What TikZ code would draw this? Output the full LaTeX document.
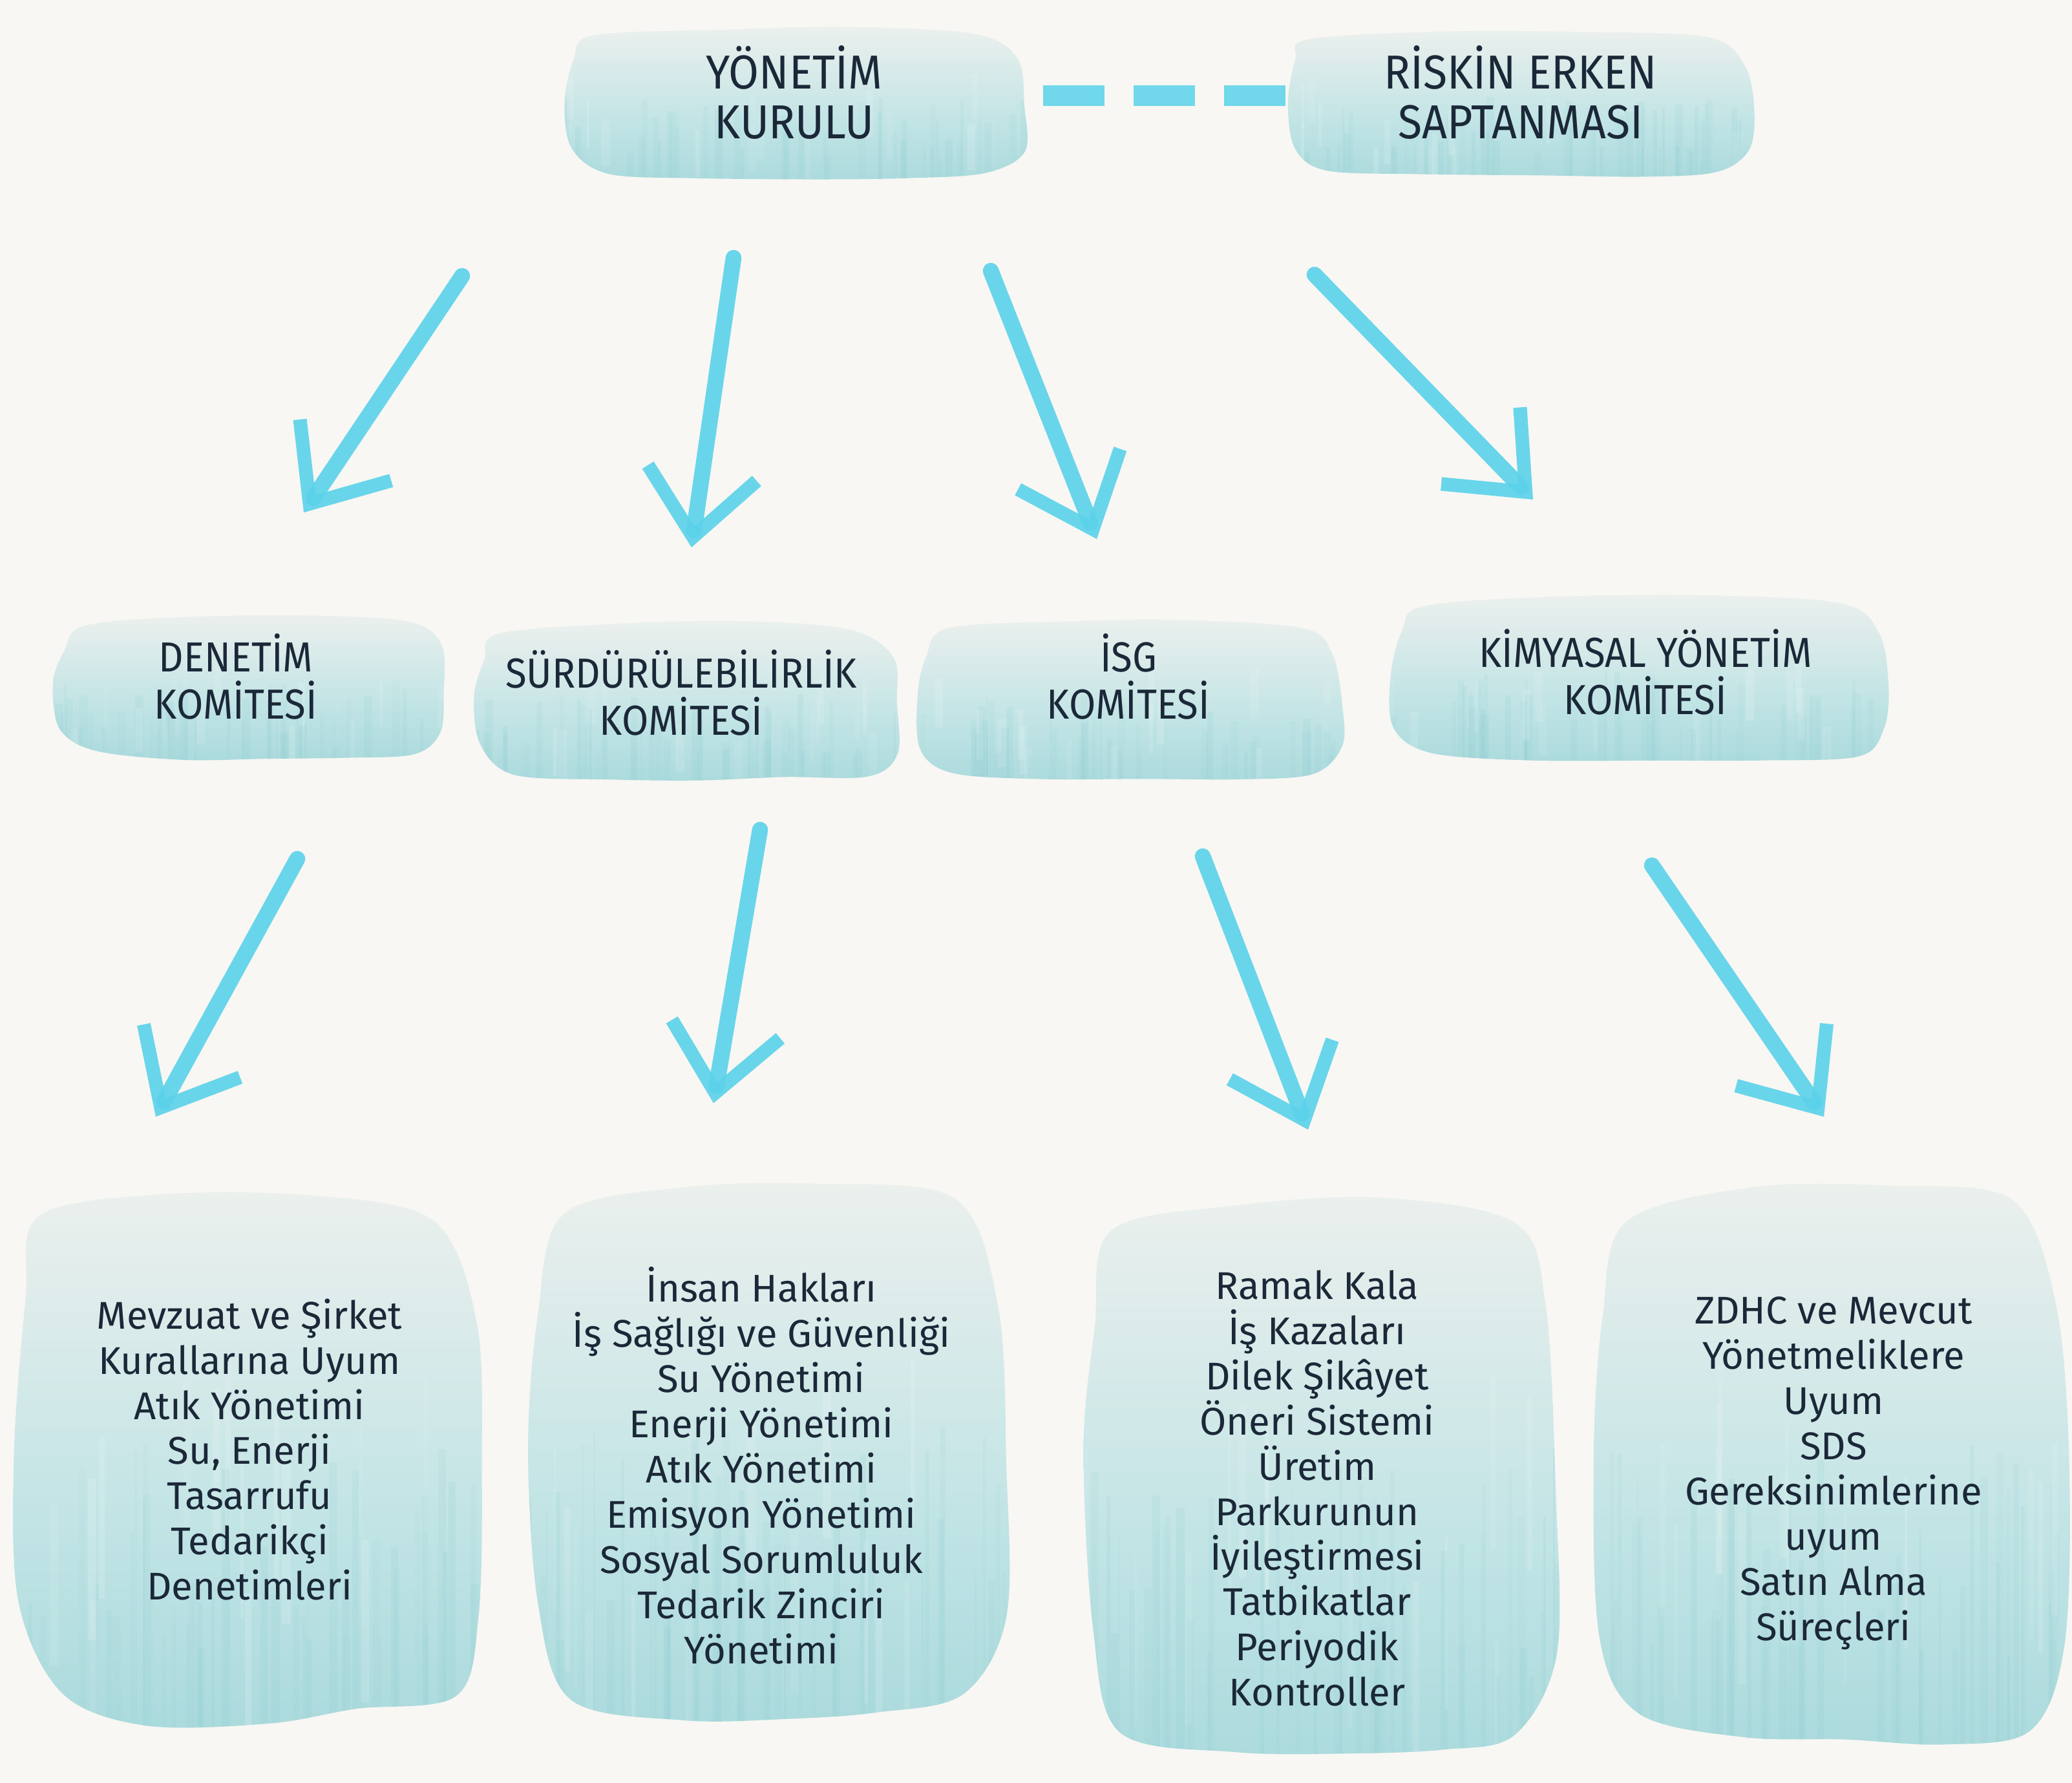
\documentclass[tikz,border=0pt]{standalone}
\usepackage{fontspec}
\setmainfont{Fira Sans}
\newfontfamily\headfont{Fira Sans}[FakeStretch=0.92]
\usetikzlibrary{arrows.meta,calc}
\definecolor{bgcol}{HTML}{F8F7F3}
\definecolor{blobtop}{HTML}{EFF1EE}
\definecolor{blobmid}{HTML}{C2E4E5}
\definecolor{blobbot}{HTML}{98D2D6}
\definecolor{streak}{HTML}{7CC6CB}
\definecolor{txt}{HTML}{1B2838}
\definecolor{arrowc}{HTML}{5AD2EA}
\pgfdeclareverticalshading{wcshade}{100bp}{color(0bp)=(blobbot); color(12bp)=(blobbot); color(45bp)=(blobmid); color(75bp)=(blobtop); color(100bp)=(blobtop)}
\newcommand\wcblob[5]{%
  \pgfmathsetseed{#5}%
  \pgfmathsetmacro\bw{#3-#1}%
  \pgfmathsetmacro\bh{#2-#4}%
  \begin{scope}[shift={(#1,#2)}, xscale=\bw, yscale=\bh]
    \clip plot[smooth cycle, tension=0.55] coordinates {
      ({0.05+0.03*rnd},{-0.05-0.03*rnd}) ({0.3+0.05*rnd},{-0.01-0.02*rnd})
      ({0.6+0.05*rnd},{-0.0-0.02*rnd}) ({0.88+0.03*rnd},{-0.03-0.03*rnd})
      ({0.97+0.02*rnd},{-0.2-0.05*rnd}) ({0.99+0.01*rnd},{-0.5-0.05*rnd})
      ({0.98+0.02*rnd},{-0.78-0.05*rnd}) ({0.9+0.04*rnd},{-0.94-0.03*rnd})
      ({0.72+0.05*rnd},{-0.96-0.03*rnd}) ({0.5+0.05*rnd},{-0.98-0.02*rnd})
      ({0.28+0.05*rnd},{-0.97-0.03*rnd}) ({0.08+0.03*rnd},{-0.93-0.03*rnd})
      ({0.01+0.02*rnd},{-0.75-0.05*rnd}) ({0.0+0.01*rnd},{-0.45-0.05*rnd})
      ({0.01+0.02*rnd},{-0.2-0.05*rnd})};
    \shade[shading=wcshade] (-0.05,0.05) rectangle (1.05,-1.05);
    \foreach \k in {1,...,45}{
      \pgfmathsetmacro\sx{rnd}
      \pgfmathsetmacro\sy{0.45+0.4*rnd}
      \pgfmathsetmacro\sw{0.8+3*rnd}
      \pgfmathsetmacro\so{0.04+0.09*rnd}
      \draw[line width=\sw pt, streak, opacity=\so] (\sx,-\sy) -- (\sx,-1.1);
    }
    \foreach \k in {1,...,14}{
      \pgfmathsetmacro\sx{rnd}
      \pgfmathsetmacro\sy{0.3+0.5*rnd}
      \pgfmathsetmacro\sw{1+3*rnd}
      \pgfmathsetmacro\so{0.06+0.1*rnd}
      \draw[line width=\sw pt, white, opacity=\so] (\sx,-\sy) -- (\sx,{-\sy-0.3});
    }
  \end{scope}}
\tikzset{
  headtxt/.style={font=\headfont\fontsize{21}{21.9}\selectfont, text=txt, align=center},
  comtxt/.style={font=\headfont\fontsize{18.5}{20.8}\selectfont, text=txt, align=center},
  bodytxt/.style={font=\fontsize{17}{19.9}\selectfont, text=txt, align=center},
  flow/.style={line width=7pt, draw=arrowc, opacity=0.9, line cap=round,
    -{Straight Barb[length=10mm,width=17mm,line width=6pt]}},
  linkdash/.style={line width=9pt, draw=arrowc, opacity=0.85, dash pattern=on 0.95cm off 0.45cm}
}
\begin{document}
\begin{tikzpicture}
\useasboundingbox (0,0) rectangle (32.06,-27.59);
\fill[bgcol] (0,0) rectangle (32.06,-27.59);

% blobs
\wcblob{8.69}{-0.41}{15.91}{-2.82}{11}
\wcblob{19.87}{-0.45}{27.15}{-2.76}{12}
\wcblob{0.82}{-9.51}{6.91}{-11.76}{13}
\wcblob{7.32}{-9.61}{13.90}{-12.10}{14}
\wcblob{14.17}{-9.57}{20.81}{-12.10}{15}
\wcblob{21.47}{-9.20}{29.24}{-11.82}{16}
\wcblob{0.20}{-18.40}{7.52}{-26.74}{17}
\wcblob{8.14}{-18.26}{15.58}{-26.68}{18}
\wcblob{16.72}{-18.40}{24.13}{-27.30}{19}
\wcblob{24.60}{-18.26}{32.02}{-27.09}{20}

% texts
\node[headtxt] (yk) at (12.29,-1.43) {YÖNETİM\\KURULU};
\node[headtxt] (re) at (23.53,-1.43) {RİSKİN ERKEN\\SAPTANMASI};
\node[comtxt] (den) at (3.65,-10.47) {DENETİM\\KOMİTESİ};
\node[comtxt] (sur) at (10.54,-10.72) {SÜRDÜRÜLEBİLİRLİK\\KOMİTESİ};
\node[comtxt] (isg) at (17.46,-10.47) {İSG\\KOMİTESİ};
\node[comtxt] (kim) at (25.46,-10.40) {KİMYASAL YÖNETİM\\KOMİTESİ};
\node[bodytxt] (b1) at (3.86,-22.43) {Mevzuat ve Şirket\\Kurallarına Uyum\\Atık Yönetimi\\Su, Enerji\\Tasarrufu\\Tedarikçi\\Denetimleri};
\node[bodytxt] (b2) at (11.78,-22.68) {İnsan Hakları\\İş Sağlığı ve Güvenliği\\Su Yönetimi\\Enerji Yönetimi\\Atık Yönetimi\\Emisyon Yönetimi\\Sosyal Sorumluluk\\Tedarik Zinciri\\Yönetimi};
\node[bodytxt] (b3) at (20.38,-23.03) {Ramak Kala\\İş Kazaları\\Dilek Şikâyet\\Öneri Sistemi\\Üretim\\Parkurunun\\İyileştirmesi\\Tatbikatlar\\Periyodik\\Kontroller};
\node[bodytxt] (b4) at (28.37,-22.80) {ZDHC ve Mevcut\\Yönetmeliklere\\Uyum\\SDS\\Gereksinimlerine\\uyum\\Satın Alma\\Süreçleri};

% connector end points
\coordinate (d1) at (16.14,-1.48);
\coordinate (d2) at (19.89,-1.48);
\coordinate (a1s) at (7.15,-4.27);   \coordinate (a1e) at (4.70,-7.93);
\coordinate (a2s) at (11.35,-3.99);  \coordinate (a2e) at (10.70,-8.47);
\coordinate (a3s) at (15.33,-4.19);  \coordinate (a3e) at (16.97,-8.34);
\coordinate (a4s) at (20.34,-4.25);  \coordinate (a4e) at (23.72,-7.73);
\coordinate (c1s) at (4.60,-13.29);  \coordinate (c1e) at (2.41,-17.28);
\coordinate (c2s) at (11.76,-12.84); \coordinate (c2e) at (11.04,-17.07);
\coordinate (c3s) at (18.61,-13.25); \coordinate (c3e) at (20.24,-17.48);
\coordinate (c4s) at (25.56,-13.39); \coordinate (c4e) at (28.22,-17.28);

\draw[linkdash] (d1) -- (d2);
\draw[flow] (a1s) -- (a1e);
\draw[flow] (a2s) -- (a2e);
\draw[flow] (a3s) -- (a3e);
\draw[flow] (a4s) -- (a4e);
\draw[flow] (c1s) -- (c1e);
\draw[flow] (c2s) -- (c2e);
\draw[flow] (c3s) -- (c3e);
\draw[flow] (c4s) -- (c4e);
\end{tikzpicture}
\end{document}
